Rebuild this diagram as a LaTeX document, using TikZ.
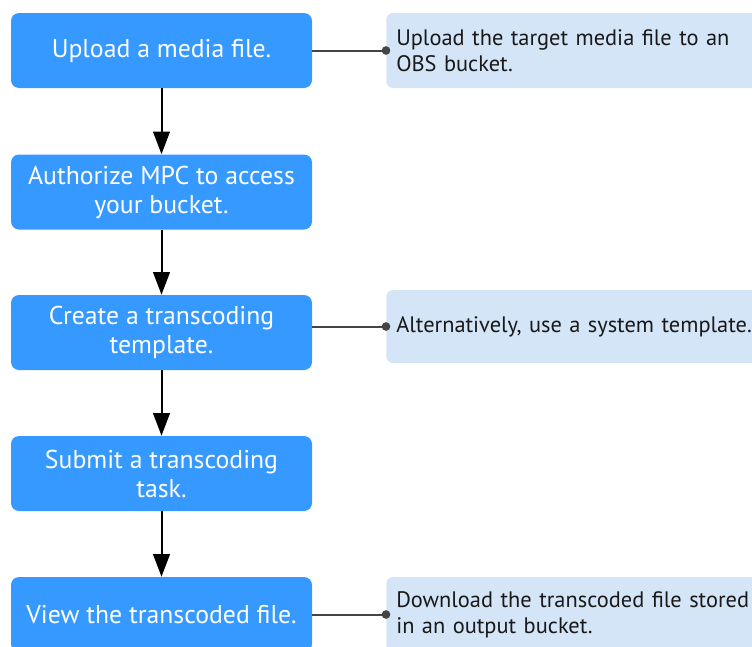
\documentclass[tikz,border=0pt]{standalone}
\usepackage{fontspec}
\setmainfont{PT Sans}
\usetikzlibrary{arrows.meta}
\definecolor{stepblue}{RGB}{53,153,255}
\definecolor{notefill}{RGB}{212,229,248}
\definecolor{linkgray}{RGB}{68,68,68}
\begin{document}
\begin{tikzpicture}[x=0.75pt,y=-0.75pt,
  stepbox/.style={rectangle,rounded corners=6pt,fill=stepblue,text=white,
    minimum width=225.75pt,minimum height=56.25pt,align=center,inner sep=0pt,
    font=\fontsize{19.3}{21.75}\selectfont},
  notebox/.style={rectangle,rounded corners=5pt,fill=notefill,text=black!90,
    minimum width=300pt,minimum height=56.25pt,anchor=west,align=left,
    text width=285pt,inner xsep=7.5pt,inner ysep=0pt,
    font=\fontsize{16.8}{19.5}\selectfont},
  flow/.style={line width=1.5pt,-{Triangle[length=17pt,width=12.5pt]}},
  link/.style={line width=1.5pt,draw=linkgray},
  dot/.style={circle,fill=linkgray,inner sep=0pt,minimum size=6.5pt}]
\useasboundingbox (0,0) rectangle (752,646);
\clip (0,0) rectangle (752,646);
\node[stepbox] (s1) at (161.5,50.5) {Upload a media file.};
\node[stepbox] (s2) at (161.5,192) {Authorize MPC to access\\your bucket.};
\node[stepbox] (s3) at (161.5,332.5) {Create a transcoding\\template.};
\node[stepbox] (s4) at (161.5,473.5) {Submit a transcoding\\task.};
\node[stepbox] (s5) at (161.5,614.5) {View the transcoded file.};
\node[notebox] (n1) at (386,50.5) {Upload the target media file to an\\OBS bucket.};
\node[notebox,minimum height=54.75pt] (n2) at (386,326.5) {Alternatively, use a system template.};
\node[notebox] (n3) at (386,614.5) {Download the transcoded file stored\\in an output bucket.};
\coordinate (d1) at (386,50.5);
\coordinate (d2) at (386,326.5);
\coordinate (d3) at (386,614.5);
\draw[flow] (s1) -- (s2);
\draw[flow] (s2) -- (s3);
\draw[flow] (s3) -- (s4);
\draw[flow] (s4) -- (s5);
\draw[link] (s1.east) -- (d1);
\draw[link] (s1.east |- d2) -- (d2);
\draw[link] (s5.east) -- (d3);
\node[dot] at (d1) {};
\node[dot] at (d2) {};
\node[dot] at (d3) {};
\end{tikzpicture}
\end{document}
